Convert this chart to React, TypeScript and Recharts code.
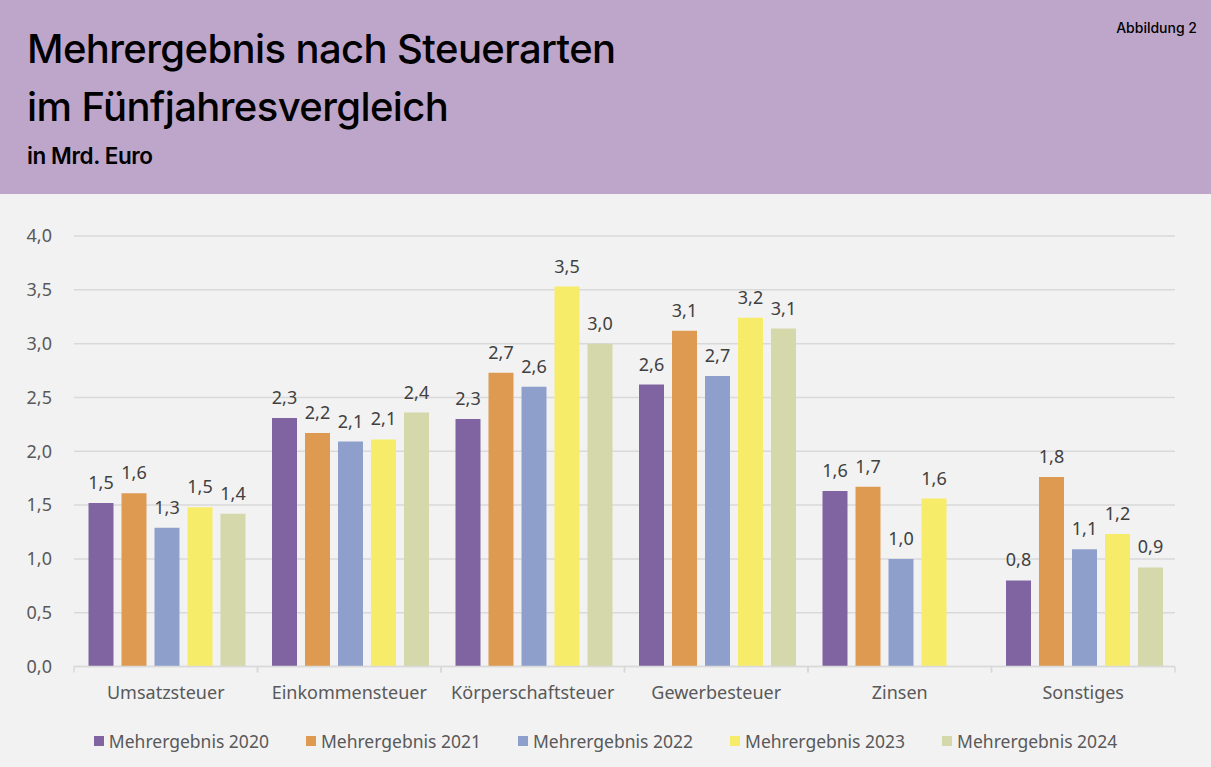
import React from 'react';
import { BarChart, Bar, XAxis, YAxis, CartesianGrid, LabelList } from 'recharts';

const categories = ['Umsatzsteuer', 'Einkommensteuer', 'Körperschaftsteuer', 'Gewerbesteuer', 'Zinsen', 'Sonstiges'];
const v2020 = [1.52, 2.31, 2.30, 2.62, 1.63, 0.80];
const v2021 = [1.61, 2.17, 2.73, 3.12, 1.67, 1.76];
const v2022 = [1.29, 2.09, 2.60, 2.70, 1.00, 1.09];
const v2023 = [1.48, 2.11, 3.53, 3.24, 1.56, 1.23];
const v2024 = [1.42, 2.36, 3.00, 3.14, null, 0.92];
const yTicks = [0, 0.5, 1, 1.5, 2, 2.5, 3, 3.5, 4];

const series = [
  { key: 's2020', name: 'Mehrergebnis 2020', values: v2020, color: '#8064a2' },
  { key: 's2021', name: 'Mehrergebnis 2021', values: v2021, color: '#dd9a50' },
  { key: 's2022', name: 'Mehrergebnis 2022', values: v2022, color: '#8e9fcc' },
  { key: 's2023', name: 'Mehrergebnis 2023', values: v2023, color: '#f6ec69' },
  { key: 's2024', name: 'Mehrergebnis 2024', values: v2024, color: '#d4d8aa' },
];

const data = categories.map((c, i) => {
  const row: any = { category: c };
  series.forEach((s) => { row[s.key] = s.values[i]; });
  return row;
});

const fmt = (v: any) => (v == null ? '' : Number(v).toFixed(1).replace('.', ','));
const FONT = '"Noto Sans", "Open Sans", sans-serif';
const TITLE_FONT = 'Inter, Roboto, sans-serif';
const TICK_SIZE = 6;
const TICK_MARGIN = 14;

const CategoryTick = (props: any) => {
  const { x, y, payload } = props;
  const off = payload && payload.offset ? payload.offset : 0;
  const axisY = y - TICK_SIZE - TICK_MARGIN;
  return (
    <g>
      <line x1={x - off} x2={x - off} y1={axisY} y2={axisY + TICK_SIZE} stroke="#d9d9d9" strokeWidth={1.5} />
      <line x1={x + off} x2={x + off} y1={axisY} y2={axisY + TICK_SIZE} stroke="#d9d9d9" strokeWidth={1.5} />
      <text x={x} y={y} dy="0.71em" textAnchor="middle" fill="#595959" fontSize={18} fontFamily={FONT}>
        {payload.value}
      </text>
    </g>
  );
};

export default function App() {
  return (
    <div style={{ position: 'absolute', left: 0, top: 0, width: 1211, height: 767, background: '#f2f2f2', overflow: 'hidden' }}>
      <svg width={1211} height={194} style={{ position: 'absolute', left: 0, top: 0 }}>
        <rect x={0} y={0} width={1211} height={194} fill="#bea6cb" />
        <text x={27} y={63} fontFamily={TITLE_FONT} fontWeight={500} fontSize={40} letterSpacing={-0.6} fill="#000">Mehrergebnis nach Steuerarten</text>
        <text x={27} y={121} fontFamily={TITLE_FONT} fontWeight={500} fontSize={40} letterSpacing={-0.6} fill="#000">im Fünfjahresvergleich</text>
        <text x={27} y={164} fontFamily={TITLE_FONT} fontWeight={600} fontSize={22.5} letterSpacing={-0.4} fill="#000">in Mrd. Euro</text>
        <text x={1197} y={33} textAnchor="end" fontFamily={TITLE_FONT} fontWeight={500} fontSize={14} fill="#000">Abbildung 2</text>
      </svg>
      <div style={{ position: 'absolute', left: 0, top: 194 }}>
        <BarChart
          width={1211}
          height={573}
          data={data}
          margin={{ top: 42, right: 36, left: 0, bottom: 60.5 }}
          barCategoryGap={14.5}
          barGap={8}
        >
          <CartesianGrid vertical={false} stroke="#d9d9d9" strokeWidth={1.5} />
          <XAxis
            dataKey="category"
            tickLine={false}
            axisLine={{ stroke: '#d9d9d9', strokeWidth: 1.5 }}
            tickSize={TICK_SIZE}
            tickMargin={TICK_MARGIN}
            height={40}
            tick={<CategoryTick />}
            interval={0}
          />
          <YAxis
            domain={[0, 4]}
            ticks={yTicks}
            width={74}
            axisLine={false}
            tickLine={false}
            tickMargin={16}
            tickFormatter={fmt}
            tick={{ fill: '#595959', fontSize: 18, fontFamily: FONT }}
          />
          {series.map((s) => (
            <Bar key={s.key} dataKey={s.key} name={s.name} fill={s.color} isAnimationActive={false}>
              <LabelList dataKey={s.key} position="top" offset={14} formatter={fmt} fill="#404040" fontSize={18} fontFamily={FONT} />
            </Bar>
          ))}
        </BarChart>
      </div>
      <div style={{ position: 'absolute', left: 0, top: 728, width: 1211, display: 'flex', justifyContent: 'center', alignItems: 'center', gap: 37, fontFamily: FONT, fontSize: 17.5, color: '#595959' }}>
        {series.map((s) => (
          <div key={s.key} style={{ display: 'flex', alignItems: 'center', gap: 5 }}>
            <div style={{ width: 10, height: 10, background: s.color }} />
            <span style={{ lineHeight: '26px' }}>{s.name}</span>
          </div>
        ))}
      </div>
    </div>
  );
}
